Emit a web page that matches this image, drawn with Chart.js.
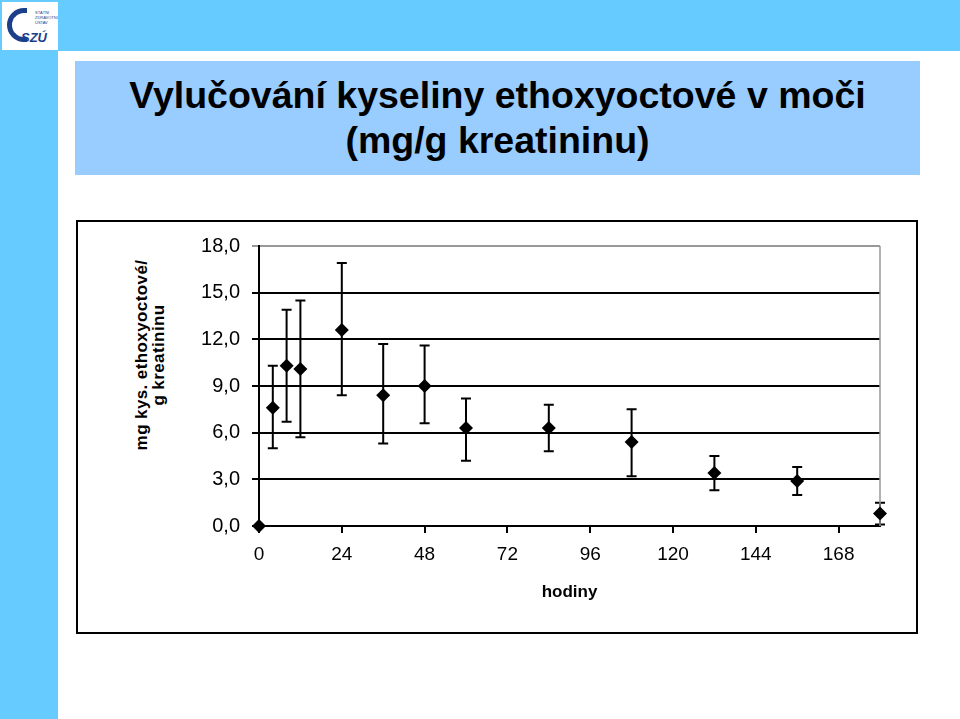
<!DOCTYPE html>
<html>
<head>
<meta charset="utf-8">
<script src="https://cdn.jsdelivr.net/npm/chart.js@4"></script>
<style>
  body { margin: 0; width: 960px; height: 719px; position: relative; background: #fff; overflow: hidden;
         font-family: 'Liberation Sans', Arial, sans-serif; }
  .topStrip { position: absolute; left: 0; top: 0; width: 960px; height: 51px; background: #66ccff; }
  .leftStrip { position: absolute; left: 0; top: 0; width: 58px; height: 719px; background: #66ccff; }
  .logo { position: absolute; left: 2px; top: 2px; width: 56px; height: 48px; background: #fff; }
  .logo .szu { position: absolute; left: 19px; top: 28px; font: italic bold 13px 'Liberation Sans', Arial; color: #1c3f8c; }
  .logo .small { position: absolute; left: 33px; top: 8px; font: 4px 'Liberation Sans', Arial; color: #1c3f8c; line-height: 5px; }
  .logo .arc { position: absolute; left: 5px; top: 6px; width: 20px; height: 34px; border: 5px solid #1c3f8c;
               border-right: none; border-radius: 20px 0 0 20px; box-sizing: border-box; }
  .titleBox { position: absolute; left: 75px; top: 61px; width: 845px; height: 114px; background: #99ccff;
              text-align: center; font-weight: bold; font-size: 37.5px; line-height: 45px; color: #000;
              padding-top: 12px; box-sizing: border-box; }
  .frame { position: absolute; left: 76px; top: 220px; width: 842px; height: 414px; border: 2px solid #000;
           box-sizing: border-box; }
  .chartWrap { position: absolute; left: 78px; top: 222px; width: 838px; height: 410px; }
  .yTitle { position: absolute; left: 150px; top: 355px; transform: translate(-50%, -50%) rotate(-90deg);
            white-space: nowrap; text-align: center; font-weight: bold; font-size: 17px; line-height: 17px;
            letter-spacing: 0.4px; }
</style>
</head>
<body>
<div class="topStrip"></div>
<div class="leftStrip"></div>
<div class="logo">
  <div class="arc"></div>
  <div class="small">STÁTNÍ<br>ZDRAVOTNÍ<br>ÚSTAV</div>
  <div class="szu">SZÚ</div>
</div>
<div class="titleBox">Vylučování kyseliny ethoxyoctové v moči<br>(mg/g kreatininu)</div>
<div class="frame"></div>
<div class="yTitle">mg kys. ethoxyoctové/<br>g kreatininu</div>
<div class="chartWrap"><canvas id="chart" width="838" height="410"></canvas></div>
<script>
// hodiny po expozici
const hours = [0, 4, 8, 12, 24, 36, 48, 60, 84, 108, 132, 156, 180];
// průměr a rozsah (mg/g kreatininu)
const meanValues = [0, 7.6, 10.3, 10.1, 12.6, 8.4, 9.0, 6.3, 6.3, 5.4, 3.4, 2.9, 0.8];
const upperValues = [0, 10.3, 13.9, 14.5, 16.9, 11.7, 11.6, 8.2, 7.8, 7.5, 4.5, 3.8, 1.5];
const lowerValues = [0, 5.0, 6.7, 5.7, 8.4, 5.3, 6.6, 4.2, 4.8, 3.2, 2.3, 2.0, 0.1];
const xTickValues = [0, 24, 48, 72, 96, 120, 144, 168];

const errorBars = {
    id: 'errorBars',
    beforeDatasetsDraw(chart) {
        const ctx = chart.ctx;
        const x = chart.scales.x;
        const y = chart.scales.y;
        ctx.save();
        ctx.strokeStyle = '#000';
        ctx.lineWidth = 2;
        hours.forEach((h, i) => {
            if (upperValues[i] === lowerValues[i]) return;
            const px = x.getPixelForValue(h);
            const top = y.getPixelForValue(upperValues[i]);
            const bottom = y.getPixelForValue(lowerValues[i]);
            ctx.beginPath();
            ctx.moveTo(px, top);
            ctx.lineTo(px, bottom);
            ctx.moveTo(px - 5, top);
            ctx.lineTo(px + 5, top);
            ctx.moveTo(px - 5, bottom);
            ctx.lineTo(px + 5, bottom);
            ctx.stroke();
        });
        ctx.restore();
    }
};

const plotBorder = {
    id: 'plotBorder',
    beforeDatasetsDraw(chart) {
        const a = chart.chartArea;
        const ctx = chart.ctx;
        ctx.save();
        ctx.strokeStyle = '#999';
        ctx.lineWidth = 1.5;
        ctx.beginPath();
        ctx.moveTo(a.right, a.top);
        ctx.lineTo(a.right, a.bottom);
        ctx.stroke();
        ctx.restore();
    }
};

new Chart(document.getElementById('chart'), {
    type: 'scatter',
    data: {
        datasets: [{
            data: hours.map((h, i) => ({ x: h, y: meanValues[i] })),
            pointStyle: 'rectRot',
            pointRadius: 7,
            pointHoverRadius: 7,
            backgroundColor: '#000',
            borderColor: '#000',
            borderWidth: 0,
            showLine: false,
            clip: false
        }]
    },
    plugins: [errorBars, plotBorder],
    options: {
        responsive: false,
        animation: false,
        layout: { padding: { top: 21, right: 36, left: 0, bottom: 0 } },
        plugins: { legend: { display: false }, tooltip: { enabled: false } },
        scales: {
            x: {
                type: 'linear',
                min: 0,
                max: 180,
                afterBuildTicks: (scale) => { scale.ticks = xTickValues.map(v => ({ value: v })); },
                afterFit: (scale) => { scale.height = 106; },
                border: { color: '#000', width: 2 },
                grid: { drawOnChartArea: false, drawTicks: true, tickLength: 7, color: '#000', lineWidth: 2 },
                ticks: {
                    color: '#000',
                    padding: 10,
                    maxRotation: 0,
                    autoSkip: false,
                    font: { family: "'Liberation Sans', Arial", size: 19 }
                },
                title: {
                    display: true,
                    text: 'hodiny',
                    color: '#000',
                    padding: { top: 0, bottom: 29 },
                    font: { family: "'Liberation Sans', Arial", size: 17, weight: 'bold' }
                }
            },
            y: {
                min: 0,
                max: 18,
                afterFit: (scale) => { scale.width = 181; },
                border: { color: '#000', width: 2 },
                grid: {
                    color: (c) => (c.tick && c.tick.value === 18 ? '#999' : '#000'),
                    lineWidth: 2,
                    tickLength: 7
                },
                ticks: {
                    stepSize: 3,
                    color: '#000',
                    padding: 12,
                    font: { family: "'Liberation Sans', Arial", size: 20 },
                    callback: (v) => v.toFixed(1).replace('.', ',')
                }
            }
        }
    }
});
</script>
</body>
</html>
